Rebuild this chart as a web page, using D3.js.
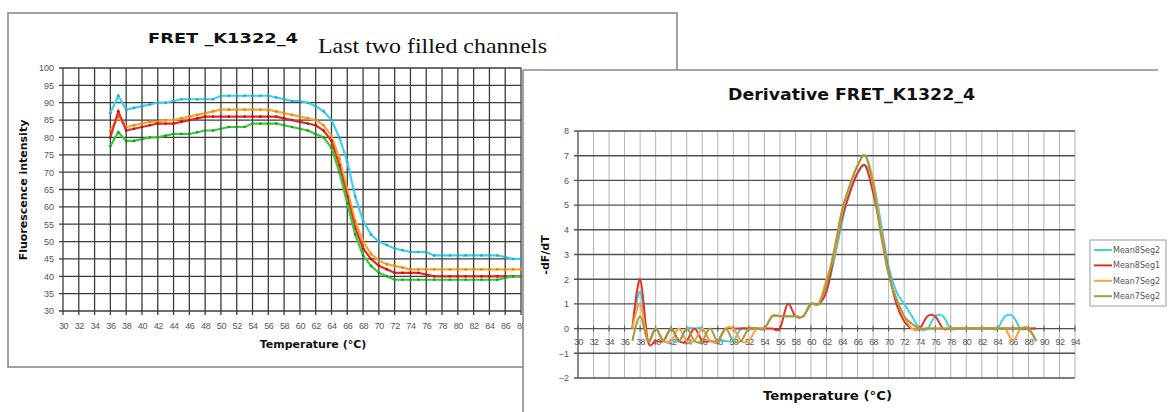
<!DOCTYPE html>
<html>
<head>
<meta charset="utf-8">
<script src="https://cdn.jsdelivr.net/npm/d3@7"></script>
<style>
  body { margin: 0; background: #fff; }
  svg { display: block; font-family: "DejaVu Sans", Verdana, sans-serif; }
</style>
</head>
<body>
<div id="chart"></div>
<script>
// ---- melt curve (left chart) ----
const meltTemps = [36,37,38,39,40,41,42,43,44,45,46,47,48,49,50,51,52,53,54,55,56,57,58,59,60,61,62,63,64,65,66,67,68,69,70,71,72,73,74,75,76,77,78,79,80,81,82,83,84,85,86,87,88];
const meltCyan   = [87,92,88,88.5,89,89.5,90,90,90.5,91,91,91,91,91,92,92,92,92,92,92,92,91.5,91,90.5,90.5,90,89,87.5,85,80,73,63,56,52,50,49,48,47.5,47,47,47,46,46,46,46,46,46,46,46,46,45.5,45,45];
const meltRed    = [80,87.5,82,82.5,83,83.5,84,84,84,84.5,85,85.5,86,86,86,86,86,86,86,86,86,86,85.5,85,84.5,84,83.5,82,79,72,63,54,48,45,43,42,41,41,41,41,40.5,40,40,40,40,40,40,40,40,40,40,40,40];
const meltOrange = [82,86,83,83.5,84,84.5,84.5,85,85,85.5,86,86.5,87,87.5,88,88,88,88,88,88,88,87.5,87,86.5,86,85.5,85,83.5,80.5,74,65,56,50,46.5,44.5,43.5,43,42.5,42,42,42,42,42,42,42,42,42,42,42,42,42,42,42];
const meltGreen  = [77.5,81.5,79,79,79.5,80,80,80.5,81,81,81,81.5,82,82,82.5,83,83,83,84,84,84,84,83.5,83,82.5,82,81,80,77,70,61,52,46,43,41,40,39,39,39,39,39,39,39,39,39,39,39,39,39,39,39.5,40,40];
const meltXTicks = [30,32,34,36,38,40,42,44,46,48,50,52,54,56,58,60,62,64,66,68,70,72,74,76,78,80,82,84,86,88];
const meltYTicks = [30,35,40,45,50,55,60,65,70,75,80,85,90,95,100];

// ---- derivative (right chart) ----
const derivTemps = [37,38,39,40,41,42,43,44,45,46,47,48,49,50,51,52,53,54,55,56,57,58,59,60,61,62,63,64,65,66,67,68,69,70,71,72,73,74,75,76,77,78,79,80,81,82,83,84,85,86,87,88,89];
const derivCyan   = [0,1.5,-0.5,0,-0.5,-0.5,-0.5,0,0,0,-0.5,-0.5,-0.5,-0.5,0,0,0,0,0.5,0.5,0.5,0.5,0.5,1,1,1.5,2.8,4.3,5.5,6.3,6.6,6,4.3,2.5,1.5,1,0.5,0,0,0.5,0.5,0,0,0,0,0,0,0,0.5,0.5,0,0,0];
const derivRed    = [0,2,-0.5,-0.5,-0.5,0,-0.5,-0.5,0,-0.5,-0.5,-0.5,0,0,0,0,0,0,0,0,1,0.5,0.5,1,1,1.5,3,4.5,5.5,6.3,6.6,5.5,4,2.3,1,0.3,0,0,0.5,0.5,0,0,0,0,0,0,0,0,0,0,0,0,0];
const derivOrange = [0,1,-0.5,0,-0.5,-0.5,0,-0.5,-0.5,0,-0.5,-0.5,0,0,-0.5,-0.5,0,0,0.5,0.5,0.5,0.5,0.5,1,1,2,3,4.7,5.8,6.6,7,6,4,2.2,1.2,0.5,0,0,0,0,0,0,0,0,0,0,0,0,0,-0.5,0,0,-0.5];
const derivOlive  = [-0.5,0.5,-0.5,0,-0.5,0,-0.5,0,-0.5,-0.5,0,-0.5,0,-0.5,-0.5,0,0,0,0.5,0.5,0.5,0.5,0.5,1,1,1.8,3.2,4.8,5.8,6.6,7,5.8,3.8,2.2,1.2,0.5,0.2,0,0,0,0,0,0,0,0,0,0,0,0,0,0,0,-0.5];
const derivXTicks = [30,32,34,36,38,40,42,44,46,48,50,52,54,56,58,60,62,64,66,68,70,72,74,76,78,80,82,84,86,88,90,92,94];
const derivYTicks = [-2,-1,0,1,2,3,4,5,6,7,8];

const seriesNames = ['Mean8Seg2', 'Mean8Seg1', 'Mean7Seg2', 'Mean7Seg2'];

const W = 1168, H = 412;
const svg = d3.select('#chart').append('svg').attr('width', W).attr('height', H);

// ================= left chart =================
const left = svg.append('g');
left.append('rect')
  .attr('x', 8).attr('y', 13).attr('width', 669).attr('height', 354)
  .attr('fill', '#fff').attr('stroke', '#8a8a8a').attr('stroke-width', 1.6);

const xL = d3.scaleLinear().domain([30, 88]).range([63, 521]);
const yL = d3.scaleLinear().domain([30, 100]).range([311, 68]);

// grid
left.append('g').selectAll('line').data(meltXTicks).join('line')
  .attr('x1', d => xL(d)).attr('x2', d => xL(d))
  .attr('y1', yL(100)).attr('y2', yL(30) + 4)
  .attr('stroke', '#3c3c3c').attr('stroke-width', 1.3);
left.append('g').selectAll('line').data(meltYTicks).join('line')
  .attr('x1', xL(30) - 4).attr('x2', xL(88))
  .attr('y1', d => yL(d)).attr('y2', d => yL(d))
  .attr('stroke', '#3c3c3c').attr('stroke-width', 1.3);

const yAxisL = left.append('g').attr('transform', `translate(${xL(30)},0)`)
  .call(d3.axisLeft(yL).tickValues(meltYTicks).tickSize(0).tickPadding(9));
const xAxisL = left.append('g').attr('transform', `translate(0,${yL(30)})`)
  .call(d3.axisBottom(xL).tickValues(meltXTicks).tickSize(0).tickPadding(12));
[yAxisL, xAxisL].forEach(a => {
  a.select('.domain').remove();
  a.selectAll('text').attr('fill', '#555').style('font-size', '9px');
});
xAxisL.selectAll('text').style('letter-spacing', '-0.4px');

const meltSeries = [
  { values: meltCyan,   color: '#3fd0ee', dot: '#2aa0c0' },
  { values: meltOrange, color: '#ffa52e', dot: '#d88316' },
  { values: meltRed,    color: '#ee2a22', dot: '#a81812' },
  { values: meltGreen,  color: '#36cc3a', dot: '#1c9220' }
];
const lineL = d3.line().x((d, i) => xL(meltTemps[i])).y(d => yL(d));
meltSeries.forEach(s => {
  left.append('path').datum(s.values)
    .attr('d', lineL).attr('fill', 'none')
    .attr('stroke', s.color).attr('stroke-width', 2.2);
  left.append('g').selectAll('circle').data(s.values).join('circle')
    .attr('cx', (d, i) => xL(meltTemps[i])).attr('cy', d => yL(d))
    .attr('r', 1.3).attr('fill', s.dot);
});

left.append('text').attr('x', 148).attr('y', 43)
  .attr('textLength', 150).attr('lengthAdjust', 'spacingAndGlyphs')
  .style('font-size', '14px').style('font-weight', 'bold').attr('fill', '#111')
  .text('FRET _K1322_4');
left.append('text').attr('x', 318).attr('y', 53)
  .attr('textLength', 229).attr('lengthAdjust', 'spacingAndGlyphs')
  .style('font-family', '"Liberation Serif", "Times New Roman", serif')
  .style('font-size', '22px').attr('fill', '#111')
  .text('Last two filled channels');
left.append('text').attr('transform', 'translate(27,190) rotate(-90)')
  .attr('text-anchor', 'middle').style('font-size', '11px').style('font-weight', 'bold')
  .attr('fill', '#111').text('Fluorescence intensity');
left.append('text').attr('x', 313).attr('y', 348).attr('text-anchor', 'middle')
  .style('font-size', '11px').style('font-weight', 'bold').attr('fill', '#111')
  .text('Temperature (°C)');

// ================= right chart =================
const right = svg.append('g');
right.append('rect').attr('x', 523).attr('y', 70).attr('width', 660).attr('height', 360)
  .attr('fill', '#fff');
right.append('line').attr('x1', 523).attr('x2', 1158).attr('y1', 70).attr('y2', 70)
  .attr('stroke', '#8a8a8a').attr('stroke-width', 1.6);
right.append('line').attr('x1', 523).attr('x2', 523).attr('y1', 70).attr('y2', H)
  .attr('stroke', '#8a8a8a').attr('stroke-width', 1.6);

const xR = d3.scaleLinear().domain([30, 94]).range([578, 1075]);
const yR = d3.scaleLinear().domain([-2, 8]).range([378, 131]);

right.append('g').selectAll('line').data(derivXTicks).join('line')
  .attr('x1', d => xR(d)).attr('x2', d => xR(d))
  .attr('y1', yR(8)).attr('y2', yR(-2))
  .attr('stroke', '#b4b4b4').attr('stroke-width', 1);
right.append('g').selectAll('line').data(derivYTicks).join('line')
  .attr('x1', xR(30) - 4).attr('x2', xR(94))
  .attr('y1', d => yR(d)).attr('y2', d => yR(d))
  .attr('stroke', '#505050').attr('stroke-width', 1.4);
// axis line at 0 with small cross ticks
right.append('g').selectAll('line').data(derivXTicks).join('line')
  .attr('x1', d => xR(d)).attr('x2', d => xR(d))
  .attr('y1', yR(0) - 3).attr('y2', yR(0) + 3)
  .attr('stroke', '#555').attr('stroke-width', 1);
right.append('line').attr('x1', xR(30)).attr('x2', xR(30))
  .attr('y1', yR(8)).attr('y2', yR(-2)).attr('stroke', '#555').attr('stroke-width', 1.2);

const yAxisR = right.append('g').attr('transform', `translate(${xR(30)},0)`)
  .call(d3.axisLeft(yR).tickValues(derivYTicks).tickSize(0).tickPadding(9));
const xAxisR = right.append('g').attr('transform', `translate(0,${yR(0)})`)
  .call(d3.axisBottom(xR).tickValues(derivXTicks).tickSize(0).tickPadding(10));
[yAxisR, xAxisR].forEach(a => {
  a.select('.domain').remove();
  a.selectAll('text').attr('fill', '#555').style('font-size', '9px');
});
xAxisR.selectAll('text').style('letter-spacing', '-0.6px');

const derivSeries = [
  { values: derivCyan,   color: '#40cfe6' },
  { values: derivRed,    color: '#e0332c' },
  { values: derivOrange, color: '#f6a53c' },
  { values: derivOlive,  color: '#a89a3c' }
];
const lineR = d3.line().x((d, i) => xR(derivTemps[i])).y(d => yR(d))
  .curve(d3.curveCatmullRom.alpha(0));
derivSeries.forEach(s => {
  right.append('path').datum(s.values)
    .attr('d', lineR).attr('fill', 'none')
    .attr('stroke', s.color).attr('stroke-width', 2);
});

right.append('text').attr('x', 728).attr('y', 100)
  .attr('textLength', 247).attr('lengthAdjust', 'spacingAndGlyphs')
  .style('font-size', '15px').style('font-weight', 'bold').attr('fill', '#111')
  .text('Derivative FRET_K1322_4');
right.append('text').attr('transform', 'translate(549,255) rotate(-90)')
  .attr('text-anchor', 'middle').style('font-size', '11px').style('font-weight', 'bold')
  .attr('fill', '#111').text('-dF/dT');
right.append('text').attr('x', 763).attr('y', 400)
  .attr('textLength', 129).attr('lengthAdjust', 'spacingAndGlyphs')
  .style('font-size', '12px').style('font-weight', 'bold').attr('fill', '#111')
  .text('Temperature (°C)');

// legend
const legend = right.append('g');
legend.append('rect').attr('x', 1090).attr('y', 240).attr('width', 76).attr('height', 66)
  .attr('fill', '#fff').attr('stroke', '#999').attr('stroke-width', 1);
derivSeries.forEach((s, i) => {
  const ly = 250 + i * 15.4;
  legend.append('line').attr('x1', 1094).attr('x2', 1112).attr('y1', ly).attr('y2', ly)
    .attr('stroke', s.color).attr('stroke-width', 2);
  legend.append('text').attr('x', 1113).attr('y', ly + 3)
    .style('font-size', '8px').attr('fill', '#555').text(seriesNames[i]);
});
</script>
</body>
</html>
